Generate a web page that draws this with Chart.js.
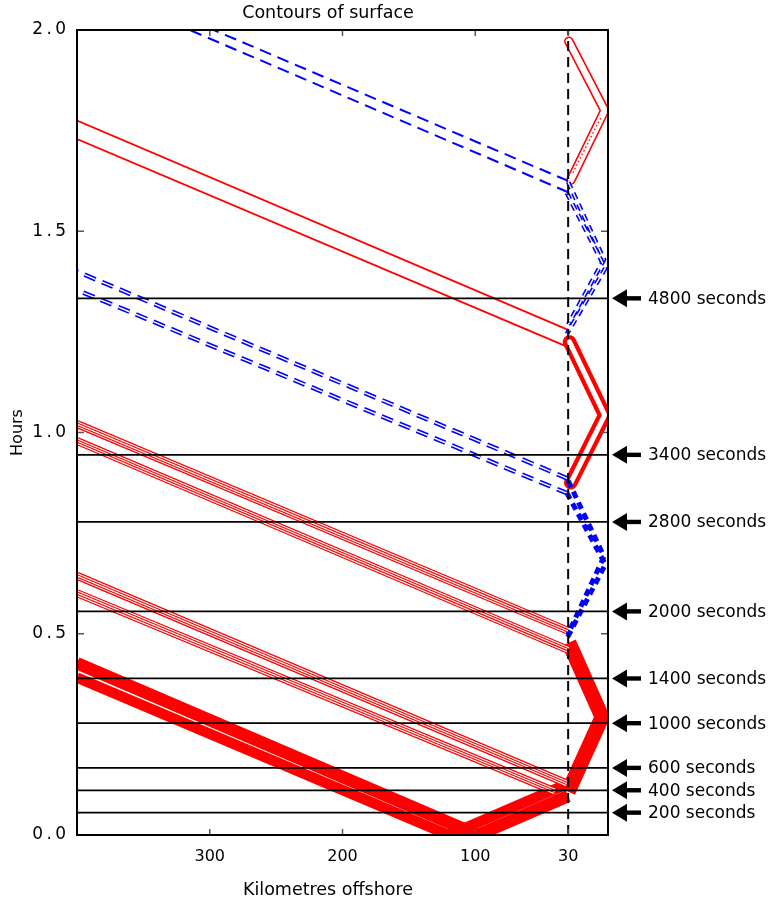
<!DOCTYPE html>
<html>
<head>
<meta charset="utf-8">
<script src="https://cdn.jsdelivr.net/npm/chart.js@4.4.1/dist/chart.umd.min.js"></script>
<style>
html,body{margin:0;padding:0;background:#fff;}
#wrap{width:772px;height:906px;position:relative;}
canvas{display:block;}
</style>
</head>
<body>
<div id="wrap"><canvas id="c" width="772" height="906"></canvas></div>
<script>
// ---------- text ----------
const titleText = 'Contours of surface';
const xAxisLabel = 'Kilometres offshore';
const yAxisLabel = 'Hours';

// ---------- axes ----------
const xTickValues = [300, 200, 100, 30];
const yTickValues = [0, 0.5, 1.0, 1.5, 2.0];
const yTickLabels = ['0\u2009.\u20090', '0\u2009.\u20095', '1\u2009.\u20090', '1\u2009.\u20095', '2\u2009.\u20090'];

// ---------- marked times (seconds) ----------
const secondsMarks = [200, 400, 600, 1000, 1400, 2000, 2800, 3400, 4800];
const shelfBreakKm = 30;

// ---------- contour paths: [km offshore, hours] ----------
// positive (red) contours
const redBand1Upper = [[400, 0.427], [98, 0.0]];
const redBand1Lower = [[400, 0.391], [120, 0.0]];
const redRiseLower  = [[98, 0.0], [30, 0.097]];
const redRiseUpper  = [[120, 0.0], [30, 0.128]];
const redShelf1     = [[30, 0.108], [4.5, 0.293], [29.5, 0.478]];
const redBand2Upper = [[31, 0.128], [400, 0.644]];
const redBand2Lower = [[40, 0.108], [400, 0.601]];
const redBand3Upper = [[30, 0.507], [400, 1.021]];
const redBand3Lower = [[30, 0.460], [400, 0.979]];
const redShelf2     = [[29, 1.225], [2.5, 1.043], [28, 0.875]];
const redThinUpper  = [[30, 1.255], [400, 1.775]];
const redThinLower  = [[30, 1.212], [400, 1.729]];
const redShelf3     = [[29.5, 1.972], [2.5, 1.800], [28, 1.627]];
const redShelf3Dots = [[26.5, 1.645], [5, 1.785]];

// negative (blue) contours
const bluePairUpper = [[30, 0.885], [400, 1.400]];
const bluePairLower = [[30, 0.848], [400, 1.354]];
const blueTopUpper  = [[30, 1.625], [297, 2.0]];
const blueTopLower  = [[30, 1.597], [315, 2.0]];
const blueShelf1a   = [[30, 0.880], [3, 0.692], [30, 0.500]];
const blueShelf1b   = [[31, 0.850], [2, 0.672], [31, 0.488]];
const blueShelf2a   = [[30, 1.622], [3, 1.430], [30, 1.268]];
const blueShelf2b   = [[31, 1.595], [2, 1.408], [31, 1.245]];

// ---------- styles ----------
const RED = '#ff0000', BLUE = '#0000ff', WHITE = '#ffffff';
const S = {
  solid12: [{c: RED, w: 12.5}],
  solid10: [{c: RED, w: 10.5}],
  thick:   [{c: RED, w: 15, join: 'round'}],
  quad:    [{c: RED, w: 8}, {c: WHITE, w: 5.6}, {c: RED, w: 3.4}, {c: WHITE, w: 1.1}],
  loopBig: [{c: RED, w: 13.5, cap: 'round', join: 'round'}, {c: WHITE, w: 5, cap: 'round', join: 'round'}],
  loopSm:  [{c: RED, w: 9.5, cap: 'round', join: 'round'}, {c: WHITE, w: 6.3, cap: 'round', join: 'round'}],
  dots:    [{c: RED, w: 1.3, d: [1.5, 2.5]}],
  thin:    [{c: RED, w: 1.8}],
  dblDash: [{c: BLUE, w: 4.6, d: [12, 7]}, {c: WHITE, w: 1.4, d: [12, 7]}],
  dash:    [{c: BLUE, w: 2, d: [12, 7]}],
  blob:    [{c: BLUE, w: 5, d: [7, 5]}],
  dblShort:[{c: BLUE, w: 4.6, d: [7, 5]}, {c: WHITE, w: 1.4, d: [7, 5]}],
  hline:   [{c: '#000000', w: 1.8}],
  vdash:   [{c: '#000000', w: 2, d: [10, 6]}]
};

const layers = [];
function addPath(path, strokes) {
  strokes.forEach(s => layers.push({
    data: path.map(p => ({x: p[0], y: p[1]})),
    borderColor: s.c,
    borderWidth: s.w,
    borderDash: s.d || [],
    borderCapStyle: s.cap || 'butt',
    borderJoinStyle: s.join || 'miter',
    pointRadius: 0,
    pointHoverRadius: 0,
    fill: false,
    tension: 0,
    clip: 0
  }));
}

// drawing sequence (first = bottom)
addPath(redBand1Upper, S.solid12);
addPath(redBand1Lower, S.solid10);
addPath(redRiseLower, S.solid12);
addPath(redRiseUpper, S.solid10);
addPath(redShelf1, S.thick);
addPath(redBand2Upper, S.quad);
addPath(redBand2Lower, S.quad);
addPath(redBand3Upper, S.quad);
addPath(redBand3Lower, S.quad);
addPath(redShelf2, S.loopBig);
addPath(redThinUpper, S.thin);
addPath(redThinLower, S.thin);
addPath(redShelf3, S.loopSm);
addPath(redShelf3Dots, S.dots);
addPath(bluePairUpper, S.dblDash);
addPath(bluePairLower, S.dblDash);
addPath(blueTopUpper, S.dash);
addPath(blueTopLower, S.dash);
addPath(blueShelf1a, S.blob);
addPath(blueShelf1b, S.blob);
addPath(blueShelf2a, S.dblShort);
addPath(blueShelf2b, S.dblShort);
secondsMarks.forEach(s => addPath([[0, s / 3600], [400, s / 3600]], S.hline));
addPath([[shelfBreakKm, 0], [shelfBreakKm, 2]], S.vdash);

const N = layers.length;
layers.forEach((d, i) => { d.order = N - i; });

const FONT = 'DejaVu Sans';

const decor = {
  id: 'decor',
  afterDraw(chart) {
    const {ctx, chartArea: a, scales: {x, y}} = chart;
    ctx.save();
    const seg = (x1, y1, x2, y2) => { ctx.beginPath(); ctx.moveTo(x1, y1); ctx.lineTo(x2, y2); ctx.stroke(); };
    // inward tick marks on all four sides
    ctx.strokeStyle = '#555'; ctx.lineWidth = 1.5;
    xTickValues.forEach(v => {
      const px = x.getPixelForValue(v);
      seg(px, a.bottom, px, a.bottom - 6);
      seg(px, a.top, px, a.top + 6);
    });
    yTickValues.forEach(v => {
      const py = y.getPixelForValue(v);
      seg(a.left, py, a.left + 7, py);
      seg(a.right, py, a.right - 7, py);
    });
    // frame
    ctx.strokeStyle = '#000'; ctx.lineWidth = 2;
    ctx.strokeRect(a.left, a.top, a.right - a.left, a.bottom - a.top);
    // arrows + labels
    ctx.fillStyle = '#000';
    ctx.font = '17px "' + FONT + '"';
    ctx.textAlign = 'left'; ctx.textBaseline = 'middle';
    secondsMarks.forEach(s => {
      const py = y.getPixelForValue(s / 3600);
      const tip = a.right + 4;
      ctx.beginPath();
      ctx.moveTo(tip, py);
      ctx.lineTo(tip + 15, py - 9);
      ctx.lineTo(tip + 15, py + 9);
      ctx.closePath(); ctx.fill();
      ctx.fillRect(tip + 13, py - 2.2, 16, 4.4);
      ctx.fillText(s + ' seconds', tip + 36, py + 1);
    });
    // title and x label
    ctx.textAlign = 'center';
    ctx.font = '17.5px "' + FONT + '"';
    ctx.fillText(titleText, 328, 13);
    ctx.fillText(xAxisLabel, 328, 890);
    ctx.restore();
  }
};

new Chart(document.getElementById('c'), {
  type: 'line',
  data: {datasets: layers},
  options: {
    responsive: false,
    animation: false,
    events: [],
    layout: {padding: {top: 30, right: 164, bottom: 0, left: 0}},
    plugins: {legend: {display: false}, tooltip: {enabled: false}, title: {display: false}},
    scales: {
      x: {
        type: 'linear',
        reverse: true,
        min: 0, max: 400,
        grid: {display: false, drawTicks: false},
        border: {display: false},
        afterBuildTicks: s => { s.ticks = xTickValues.map(v => ({value: v})); },
        afterFit: s => { s.height = 71; },
        ticks: {
          autoSkip: false, maxRotation: 0, padding: 12, color: '#000',
          font: {family: FONT, size: 16},
          callback: v => String(v)
        }
      },
      y: {
        type: 'linear',
        min: 0, max: 2,
        grid: {display: false, drawTicks: false},
        border: {display: false},
        afterBuildTicks: s => { s.ticks = yTickValues.map(v => ({value: v})); },
        afterFit: s => { s.width = 77; },
        title: {display: true, text: yAxisLabel, color: '#000', font: {family: FONT, size: 16}, padding: {top: 8, bottom: 0}},
        ticks: {
          autoSkip: false, padding: 11, color: '#000',
          font: {family: FONT, size: 17},
          callback: (v) => yTickLabels[yTickValues.indexOf(v)]
        }
      }
    }
  },
  plugins: [decor]
});
</script>
</body>
</html>
